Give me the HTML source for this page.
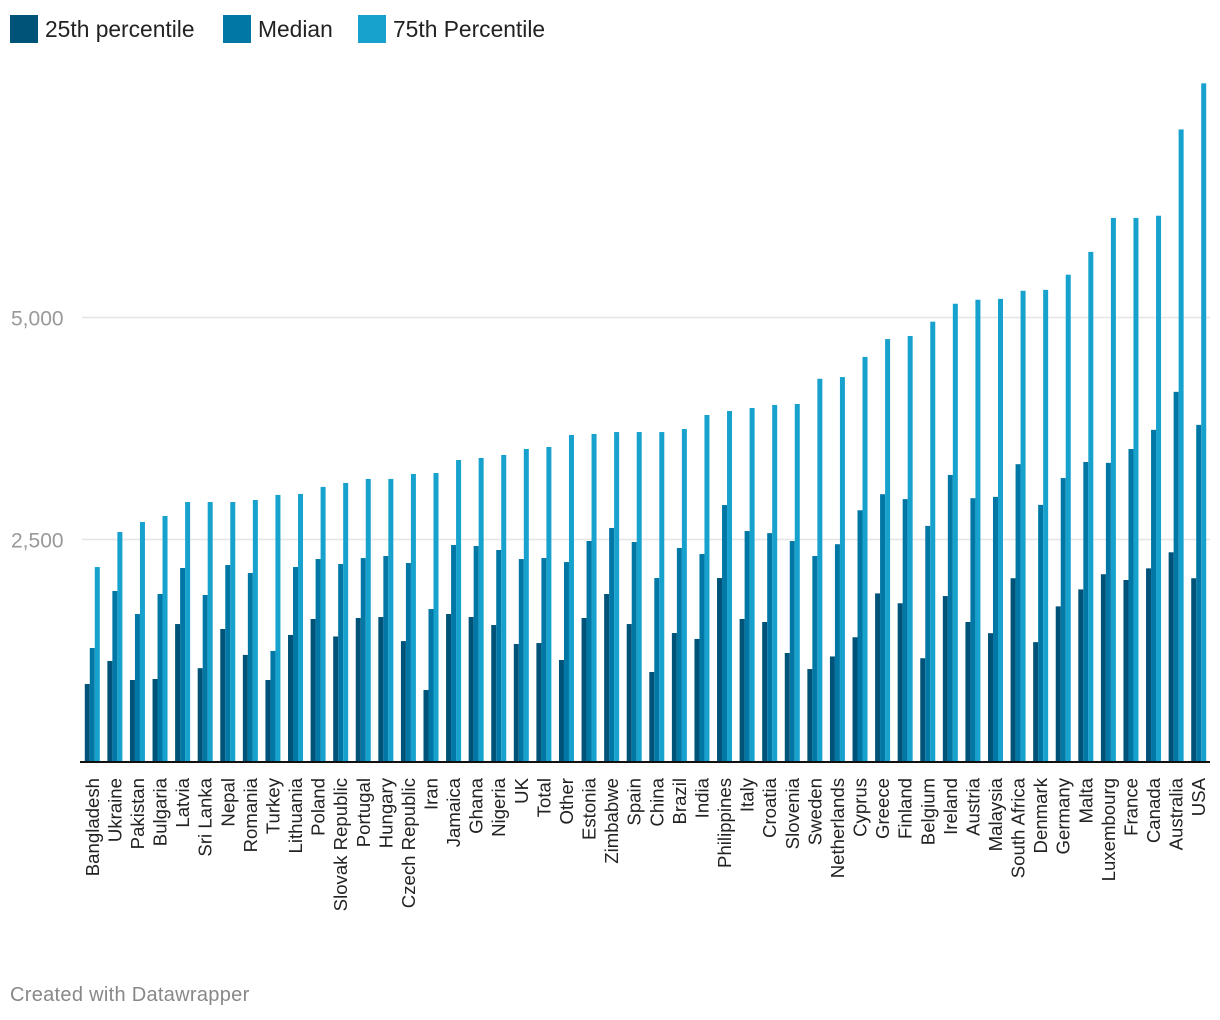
<!DOCTYPE html>
<html><head><meta charset="utf-8">
<style>
html,body{margin:0;padding:0;background:#fff;width:1220px;height:1020px;overflow:hidden;font-family:"Liberation Sans",sans-serif;}
.leg{position:absolute;top:15px;height:28px;display:flex;align-items:center;font-size:22.8px;color:#222;}
.sw{width:28px;height:28px;margin-right:7px;}
#credit{position:absolute;left:10px;top:984px;font-size:20px;letter-spacing:0.3px;color:#888;}
</style></head><body>
<div class="leg" style="left:10px"><div class="sw" style="background:#005378"></div>25th percentile</div>
<div class="leg" style="left:223px"><div class="sw" style="background:#0077a4"></div>Median</div>
<div class="leg" style="left:358px"><div class="sw" style="background:#17a1cd"></div>75th Percentile</div>
<svg id="chart" width="1220" height="1020" style="position:absolute;left:0;top:0"></svg>
<div id="credit">Created with Datawrapper</div>
<script>
const categories = ["Bangladesh","Ukraine","Pakistan","Bulgaria","Latvia","Sri Lanka","Nepal","Romania","Turkey","Lithuania","Poland","Slovak Republic","Portugal","Hungary","Czech Republic","Iran","Jamaica","Ghana","Nigeria","UK","Total","Other","Estonia","Zimbabwe","Spain","China","Brazil","India","Philippines","Italy","Croatia","Slovenia","Sweden","Netherlands","Cyprus","Greece","Finland","Belgium","Ireland","Austria","Malaysia","South Africa","Denmark","Germany","Malta","Luxembourg","France","Canada","Australia","USA"];
const p25 = [873,1132,918,929,1548,1051,1492,1200,918,1425,1605,1408,1616,1627,1356,805,1661,1627,1537,1323,1334,1143,1616,1886,1548,1008,1447,1380,2066,1605,1571,1222,1041,1183,1399,1893,1782,1163,1863,1571,1445,2064,1344,1747,1938,2109,2044,2175,2356,2064];
const median = [1278,1920,1661,1886,2179,1875,2213,2123,1245,2190,2280,2224,2291,2314,2235,1717,2438,2427,2382,2280,2291,2246,2483,2630,2472,2066,2404,2336,2888,2595,2572,2483,2314,2447,2829,3010,2955,2653,3227,2965,2980,3348,2890,3192,3373,3363,3519,3735,4163,3791];
const p75 = [2190,2584,2697,2765,2922,2922,2922,2945,3002,3013,3092,3137,3182,3182,3238,3249,3395,3418,3452,3519,3542,3677,3688,3710,3710,3710,3744,3902,3947,3981,4015,4026,4310,4329,4556,4757,4792,4953,5155,5200,5210,5301,5311,5482,5739,6121,6121,6146,7118,7637];
const yTicks = [2500,5000];
const yTickLabels = ["2,500","5,000"];

const NS="http://www.w3.org/2000/svg";
const svg=document.getElementById('chart');
const x0=81, x1=1210, y0=761.5, k=0.0888;
const band=(x1-x0)/categories.length;
const yScale=v=>y0-v*k;
const xCenter=i=>x0+band*(i+0.5);
function mk(tag,attrs){const e=document.createElementNS(NS,tag);for(const a in attrs)e.setAttribute(a,attrs[a]);svg.appendChild(e);return e;}
yTicks.forEach((t,i)=>{
  const g=mk('line',{x1:82,x2:x1,y1:yScale(t),y2:yScale(t),stroke:'#e5e5e5','stroke-width':1.5});
  
  
  const tx=mk('text',{x:11,y:yScale(t)+8,'font-size':21,fill:'#999','font-family':'Liberation Sans, sans-serif'});
  tx.textContent=yTickLabels[i];
  
  
});
const series=[[p25,'#005378','25th'],[median,'#0077a4','median'],[p75,'#17a1cd','75th']];
categories.forEach((c,i)=>{
  const cx=xCenter(i);
  series.forEach((s,j)=>{
    const v=s[0][i];
    const r=mk('rect',{x:cx-7.5+j*5,y:yScale(v),width:5,height:v*k,fill:s[1]});
    
    
  });
  const t=mk('text',{transform:`translate(${cx+6.5},778) rotate(-90)`,'text-anchor':'end','font-size':18.6,fill:'#222','font-family':'Liberation Sans, sans-serif'});
  t.textContent=c;
  
  
});
const base=mk('line',{x1:80,x2:x1,y1:762,y2:762,stroke:'#111','stroke-width':2});


</script>
</body></html>
